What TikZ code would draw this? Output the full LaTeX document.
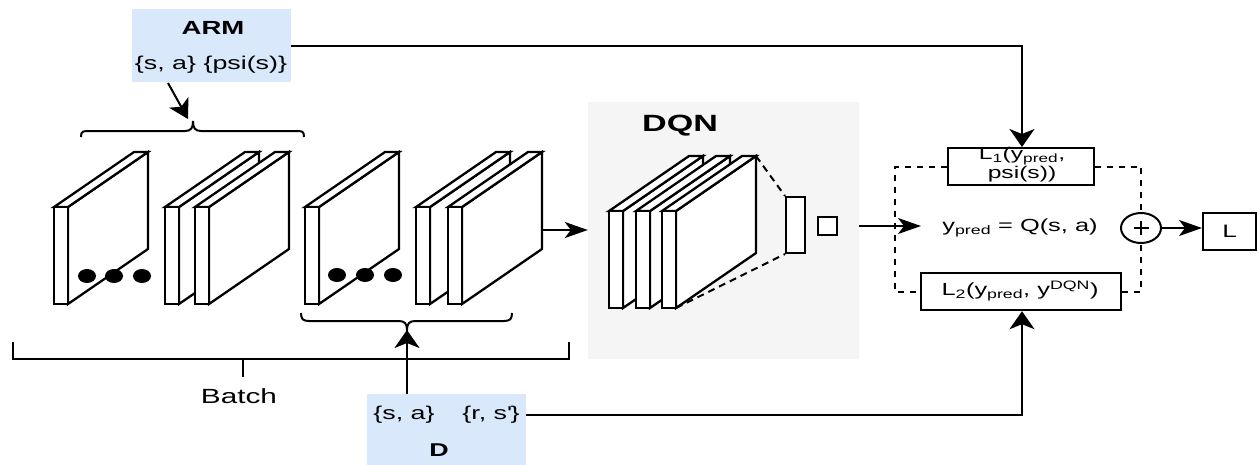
\documentclass[tikz,border=0pt]{standalone}
\usepackage{fontspec}
\setmainfont{Liberation Sans}[FakeStretch=1.45]
\usetikzlibrary{arrows.meta,shapes.geometric}
\definecolor{armblue}{HTML}{DAE8FC}
\definecolor{panelgray}{HTML}{F5F5F5}
\newcommand\fsz[1]{\fontsize{#1pt}{#1pt}\selectfont}
\newcommand\convlayer[3]{%
  \filldraw[layerline] (#1+14,#2) -- ++(80,-55) -- ++(0,#3) -- ++(-80,55) -- cycle;
  \filldraw[layerline] (#1,#2) -- ++(80,-55) -- ++(14,0) -- ++(-80,55) -- cycle;
  \filldraw[layerline] (#1,#2) rectangle ++(14,#3);}
\begin{document}
\begin{tikzpicture}[x=1pt,y=-1pt,
  layerline/.style={draw=black,fill=white,line width=2.3pt,line join=miter},
  conn/.style={line width=2pt},
  vtip/.style={-{Stealth[length=18pt,width=25pt,inset=5pt]}},
  htip/.style={-{Stealth[length=23pt,width=16pt,inset=6pt]}},
  dtip/.style={-{Stealth[length=19pt,width=22pt,inset=5pt]}},
  lbl/.style={inner sep=0pt,font=\fsz{18}},
  box/.style={draw,line width=2pt,fill=white,inner sep=0pt},
  dline/.style={line width=2pt,dash pattern=on 6pt off 6pt},
  fcdash/.style={line width=2pt,dash pattern=on 7pt off 5pt},
  blue/.style={fill=armblue,inner sep=0pt,minimum width=159pt}]
\useasboundingbox (0,0) rectangle (1257,464);

% ARM box
\node[blue,minimum height=73pt] (arm) at (211.5,45.5) {};
\node[lbl,font=\bfseries\fsz{19}] (armt) at (213,28) {ARM};
\node[lbl,font=\fsz{18.5}] (arml) at (211,65) {\{s, a\} \{psi(s)\}};

% D box
\node[blue,minimum height=72pt] (D) at (446.5,430) {};
\node[lbl,font=\fsz{18.5}] (dsa) at (404,415) {\{s, a\}};
\node[lbl,font=\fsz{18.5}] (drs) at (491,415) {\{r, s\textquotesingle\}};
\node[lbl,font=\bfseries\fsz{18.5}] (dt) at (439,450) {D};

% batch layers
\convlayer{54}{207}{97}
\convlayer{165}{207}{97}
\convlayer{195}{207}{97}
\convlayer{305}{207}{97}
\convlayer{416}{207}{97}
\convlayer{448}{207}{97}
\foreach \x in {87,114,142} \fill (\x,276) ellipse [x radius=9pt,y radius=7pt];
\foreach \x in {337,365,393} \fill (\x,275) ellipse [x radius=9pt,y radius=7pt];

% braces
\draw[conn] (81,137) .. controls (81,131) and (83,131) .. (89,131) -- (185,131)
  .. controls (191,131) and (193,128) .. (193,121)
  .. controls (193,128) and (195,131) .. (201,131) -- (296,131)
  .. controls (302,131) and (304,131) .. (304,137);
\draw[conn] (301,313) .. controls (301,319) and (303,321) .. (309,321) -- (399,321)
  .. controls (405,321) and (407,324) .. (407,330)
  .. controls (407,324) and (409,321) .. (415,321) -- (504,321)
  .. controls (510,321) and (512,319) .. (512,313);

% batch bracket
\coordinate (bl) at (13,342);
\coordinate (br) at (569,342);
\coordinate (bm) at (243,359);
\draw[conn] (bl) -- (bl |- bm) -- (br |- bm) -- (br);
\draw[conn] (bm) -- ++(0,18);
\node[lbl,font=\fsz{20.5}] (batch) at (239,396) {Batch};

% arrows into batch
\coordinate (armfrom) at (168,83);
\coordinate (armtip) at (188,119);
\draw[conn,dtip] (armfrom) -- (armtip);
\coordinate (bbtip) at (407,330);
\draw[conn,vtip] (bbtip |- D.north) -- (bbtip);

% DQN panel
\node[fill=panelgray,inner sep=0pt,minimum width=271pt,minimum height=257pt] (dqn) at (723.5,230.5) {};
\node[lbl,font=\bfseries\fsz{23.5}] (dqnt) at (680,126) {DQN};
\convlayer{609}{211}{97}
\convlayer{636}{211}{97}
\convlayer{662}{211}{97}
\node[box,minimum width=19pt,minimum height=56pt] (fc) at (795.5,225) {};
\node[box,minimum width=19pt,minimum height=18pt] (outsq) at (827.5,225.5) {};
\coordinate (lt) at (756,156);
\coordinate (lb) at (676,308);
\draw[fcdash] (lt) -- (fc.north west);
\draw[fcdash] (lb) -- (fc.south west);

\coordinate (l6) at (542,230);
\draw[conn,htip] (l6) -- (l6 -| dqn.west);

% loss part
\node[box,minimum width=146pt,minimum height=37pt] (L1) at (1020.5,166.5) {};
\node[inner sep=0pt,align=center,font=\fontsize{17pt}{19pt}\selectfont] (L1t) at (1022,165) {L\textsubscript{1}(y\textsubscript{pred},\\psi(s))};
\node[box,minimum width=200pt,minimum height=37pt] (L2) at (1020.7,291.7) {};
\node[lbl,font=\fsz{17.5}] (L2t) at (1020,291) {L\textsubscript{2}(y\textsubscript{pred}, y\textsuperscript{DQN})};
\node[lbl,font=\fsz{17.5}] (yp) at (1020,228) {y\textsubscript{pred} = Q(s, a)};
\node[draw,ellipse,line width=2pt,minimum width=40pt,minimum height=30pt,inner sep=0pt,fill=white] (plus) at (1141,228) {};
\draw[conn] ([xshift=-7.5pt]plus.center) -- ([xshift=7.5pt]plus.center);
\draw[conn] ([yshift=-7pt]plus.center) -- ([yshift=7pt]plus.center);
\node[box,minimum width=53pt,minimum height=37pt,font=\fsz{18}] (Lout) at (1229.5,231.5) {L};

\coordinate (dl) at (895,0);
\draw[dline] (L1.west) -- (L1.west -| dl) -- (L2.west -| dl) -- (L2.west);
\draw[dline] (L1.east) -| (plus.north);
\draw[dline] (L2.east) -| (plus.south);

\coordinate (yin) at (921,226);
\draw[conn,htip] (dqn.east |- yin) -- (yin);
\draw[conn,htip] (plus.east) -- (plus.east -| Lout.west);

\coordinate (c1) at (1022,45.5);
\draw[conn,vtip] (arm.east) -- (c1) -- (c1 |- L1.north);
\coordinate (c2) at (1022,415);
\draw[conn,vtip] (drs.east -| D.east) -- (c2) -- (c2 |- L2.south);
\end{tikzpicture}
\end{document}
